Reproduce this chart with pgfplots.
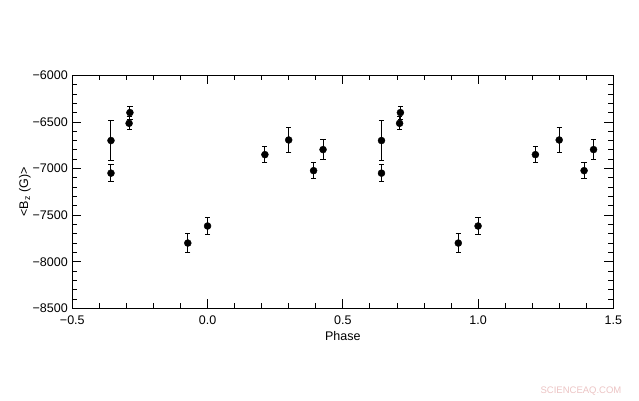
\documentclass[border=0pt]{standalone}
\usepackage{pgfplots}
\pgfplotsset{compat=1.18}
\usepackage{fontspec}
\setmainfont{Liberation Sans}
\definecolor{wm}{RGB}{236,196,196}
\begin{document}
\begin{tikzpicture}[x=1pt,y=1pt]
\path[use as bounding box] (0,0) rectangle (639,400);
\begin{axis}[
    at={(72.3pt,91.7pt)}, anchor=south west,
    scale only axis, width=541pt, height=233pt,
    xmin=-0.5, xmax=1.5, ymin=-8500, ymax=-6000,
    xtick={-0.5,0,0.5,1,1.5},
    xticklabels={−0.5,0.0,0.5,1.0,1.5},
    ytick={-8500,-8000,-7500,-7000,-6500,-6000},
    yticklabels={−8500,−8000,−7500,−7000,−6500,−6000},
    minor x tick num=4, minor y tick num=4,
    tick align=inside, major tick length=9pt, minor tick length=5pt,
    tick style={black, line width=0.8pt},
    axis line style={line width=0.9pt},
    tick label style={font=\fontsize{12.5}{14}\selectfont},
    xticklabel style={yshift=-4pt},
    yticklabel style={xshift=-1pt},
    xlabel={Phase},
    xlabel style={font=\fontsize{12.5}{14}\selectfont, at={(axis description cs:0.5,0)}, anchor=center, yshift=-28pt},
    ylabel={<B\textsubscript{z} (G)>},
    ylabel style={font=\fontsize{12.5}{14}\selectfont},
    ylabel shift=-5pt,
    clip=false,
]
\addplot[only marks, mark=*, mark size=3.5pt, black,
    error bars/.cd, y dir=both, y explicit,
    error mark options={rotate=90, mark size=2.6pt, line width=1pt},
    error bar style={line width=1pt}]
  table[x=x, y=y, y error=e] {
x y e
-0.357 -6700 210
-0.357 -7050 92
-0.287 -6400 70
-0.290 -6515 68
-0.073 -7800 105
0.000 -7617 88
0.212 -6851 82
0.300 -6694 138
0.392 -7023 86
0.427 -6797 108
0.643 -6700 210
0.643 -7050 92
0.713 -6400 70
0.710 -6515 68
0.927 -7800 105
1.000 -7617 88
1.212 -6851 82
1.300 -6694 138
1.392 -7023 86
1.427 -6797 108
};
\end{axis}
\node[wm, font=\fontsize{9.5}{11}\selectfont, anchor=center] at (581,9) {SCIENCEAQ.COM};
\end{tikzpicture}
\end{document}
